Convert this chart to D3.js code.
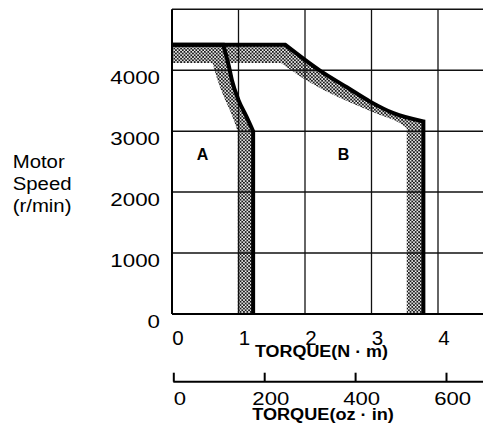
<!DOCTYPE html>
<html>
<head>
<meta charset="utf-8">
<script src="https://cdn.jsdelivr.net/npm/d3@7"></script>
<style>
  html, body { margin: 0; padding: 0; background: #fff; }
  svg { display: block; font-family: "Liberation Sans", Arial, sans-serif; }
</style>
</head>
<body>
<div id="chart"></div>
<script>
// ---- data ----
const speedTicks = [0, 1000, 2000, 3000, 4000];
const speedGrid = [1000, 2000, 3000, 4000, 5000];
const torqueNmTicks = [0, 1, 2, 3, 4];
const torqueOzTicks = [0, 200, 400, 600];

// Outer (intermittent) boundaries, [torque N·m, speed r/min], split as flat / curved / vertical parts
const outerATop = [[0, 4420], [0.77, 4420]];
const outerACurve = [[0.77, 4420], [0.85, 4090], [0.90, 3840], [1.00, 3510], [1.12, 3240], [1.22, 3000]];
const outerADown = [[1.22, 3000], [1.22, 0]];
const outerBTop = [[0, 4420], [1.70, 4420]];
const outerBCurve = [[1.70, 4420], [2.23, 3990], [2.63, 3720], [2.98, 3485], [3.33, 3295], [3.78, 3160]];
const outerBDown = [[3.78, 3160], [3.78, 0]];
// Inner edges of the shaded bands
const innerATop = [[0, 4120], [0.61, 4120]];
const innerACurve = [[0.61, 4120], [0.70, 3790], [0.80, 3510], [0.90, 3265], [0.99, 2990]];
const innerADown = [[0.99, 2990], [0.99, 0]];
const innerBTop = [[0, 4120], [1.64, 4120]];
const innerBCurve = [[1.64, 4120], [1.97, 3870], [2.48, 3570], [2.83, 3400], [3.13, 3265], [3.43, 3130], [3.53, 3050]];
const innerBDown = [[3.53, 3050], [3.53, 0]];

const regionLabels = [{ name: "A", t: 0.46, s: 2520 }, { name: "B", t: 2.58, s: 2520 }];

// ---- layout ----
const W = 483, H = 427;
const svg = d3.select("#chart").append("svg").attr("width", W).attr("height", H);

const x = d3.scaleLinear().domain([0, 4]).range([172, 438]);
const y = d3.scaleLinear().domain([0, 5000]).range([314, 9.3]);
const xOz = d3.scaleLinear().domain([0, 600]).range([173.3, 446]);

const defs = svg.append("defs");
const P = 3.4, R = 1.0;
const pat = defs.append("pattern").attr("id", "stip").attr("patternUnits", "userSpaceOnUse")
  .attr("width", P).attr("height", P);
pat.append("rect").attr("width", P).attr("height", P).attr("fill", "#f4f4f4");
pat.append("circle").attr("cx", P / 4).attr("cy", P / 4).attr("r", R).attr("fill", "#111");
pat.append("circle").attr("cx", 3 * P / 4).attr("cy", 3 * P / 4).attr("r", R).attr("fill", "#111");

const lin = d3.line().x(d => x(d[0])).y(d => y(d[1])).curve(d3.curveLinear);
const smooth = d3.line().x(d => x(d[0])).y(d => y(d[1])).curve(d3.curveMonotoneX);
const cont = s => s.replace(/^M/, "L");
function boundaryPath(top, curve, down) {
  return lin(top) + cont(smooth(curve)) + cont(lin(down));
}
function boundaryPathRev(top, curve, down) {
  const rc = curve.slice().reverse().map(d => [-d[0], d[1]]);
  const sm = d3.line().x(d => x(-d[0])).y(d => y(d[1])).curve(d3.curveMonotoneX);
  return cont(lin(down.slice().reverse())) + cont(sm(rc)) + cont(lin(top.slice().reverse()));
}

// shaded bands
[[outerATop, outerACurve, outerADown, innerATop, innerACurve, innerADown],
 [outerBTop, outerBCurve, outerBDown, innerBTop, innerBCurve, innerBDown]].forEach(b => {
  const d = boundaryPath(b[0], b[1], b[2]) + boundaryPathRev(b[3], b[4], b[5]) + "Z";
  svg.append("path").attr("d", d).attr("fill", "url(#stip)").attr("stroke", "none");
});

// grid
const gridColor = "#111";
svg.append("g").selectAll("line").data(speedGrid).join("line")
  .attr("x1", x(0)).attr("x2", W).attr("y1", d => y(d)).attr("y2", d => y(d))
  .attr("stroke", gridColor).attr("stroke-width", 1.5);
svg.append("g").selectAll("line").data(torqueNmTicks.slice(1)).join("line")
  .attr("x1", d => x(d)).attr("x2", d => x(d)).attr("y1", y(5000)).attr("y2", y(0))
  .attr("stroke", gridColor).attr("stroke-width", 1.3);
// frame: left and bottom
svg.append("line").attr("x1", x(0)).attr("x2", x(0)).attr("y1", y(5000)).attr("y2", y(0))
  .attr("stroke", "#000").attr("stroke-width", 2);
svg.append("line").attr("x1", x(0)).attr("x2", W).attr("y1", y(0)).attr("y2", y(0))
  .attr("stroke", "#000").attr("stroke-width", 2);

// boundary lines
[[outerATop, outerACurve, outerADown], [outerBTop, outerBCurve, outerBDown]].forEach(b => {
  svg.append("path").attr("d", boundaryPath(b[0], b[1], b[2])).attr("fill", "none").attr("stroke", "#000")
    .attr("stroke-width", 4).attr("stroke-linejoin", "miter");
});

// region labels
svg.append("g").selectAll("text").data(regionLabels).join("text")
  .attr("x", d => x(d.t)).attr("y", d => y(d.s))
  .attr("text-anchor", "middle").attr("font-size", 16).attr("font-weight", "bold")
  .text(d => d.name);

// y tick labels
svg.append("g").selectAll("text").data(speedTicks).join("text")
  .attr("transform", d => `translate(160,${y(d) + 13.8}) scale(1.2,1)`)
  .attr("text-anchor", "end").attr("font-size", 18.6)
  .text(d => d);

// y title
const yTitle = ["Motor", "Speed", "(r/min)"];
svg.append("g").selectAll("text").data(yTitle).join("text")
  .attr("transform", (d, i) => `translate(12.7,${168.3 + i * 22}) scale(1.1,1)`)
  .attr("font-size", 18.5).text(d => d);

// N·m tick labels
svg.append("g").selectAll("text").data(torqueNmTicks).join("text")
  .attr("x", d => x(d) + 6).attr("y", 345)
  .attr("text-anchor", "middle").attr("font-size", 20.5)
  .text(d => d);
svg.append("text").attr("x", 321.5).attr("y", 357).attr("text-anchor", "middle")
  .attr("font-size", 17.2).attr("font-weight", "bold")
  .attr("textLength", 133).attr("lengthAdjust", "spacingAndGlyphs")
  .text("TORQUE(N · m)");

// oz·in axis
const ozAxis = d3.axisTop(xOz).tickValues(torqueOzTicks).tickSize(9).tickFormat("");
const gOz = svg.append("g").attr("transform", "translate(0,381.7)").call(ozAxis);
gOz.select(".domain").attr("d", `M${xOz(0)},0H${W}`).attr("stroke", "#000").attr("stroke-width", 2);
gOz.selectAll(".tick line").attr("stroke", "#000").attr("stroke-width", 2);

svg.append("g").selectAll("text").data(torqueOzTicks).join("text")
  .attr("transform", d => `translate(${xOz(d) + 6.6},405) scale(1.19,1)`)
  .attr("text-anchor", "middle").attr("font-size", 18.6)
  .text(d => d);
svg.append("text").attr("x", 323).attr("y", 420).attr("text-anchor", "middle")
  .attr("font-size", 17.2).attr("font-weight", "bold")
  .attr("textLength", 141.7).attr("lengthAdjust", "spacingAndGlyphs")
  .text("TORQUE(oz · in)");
</script>
</body>
</html>
